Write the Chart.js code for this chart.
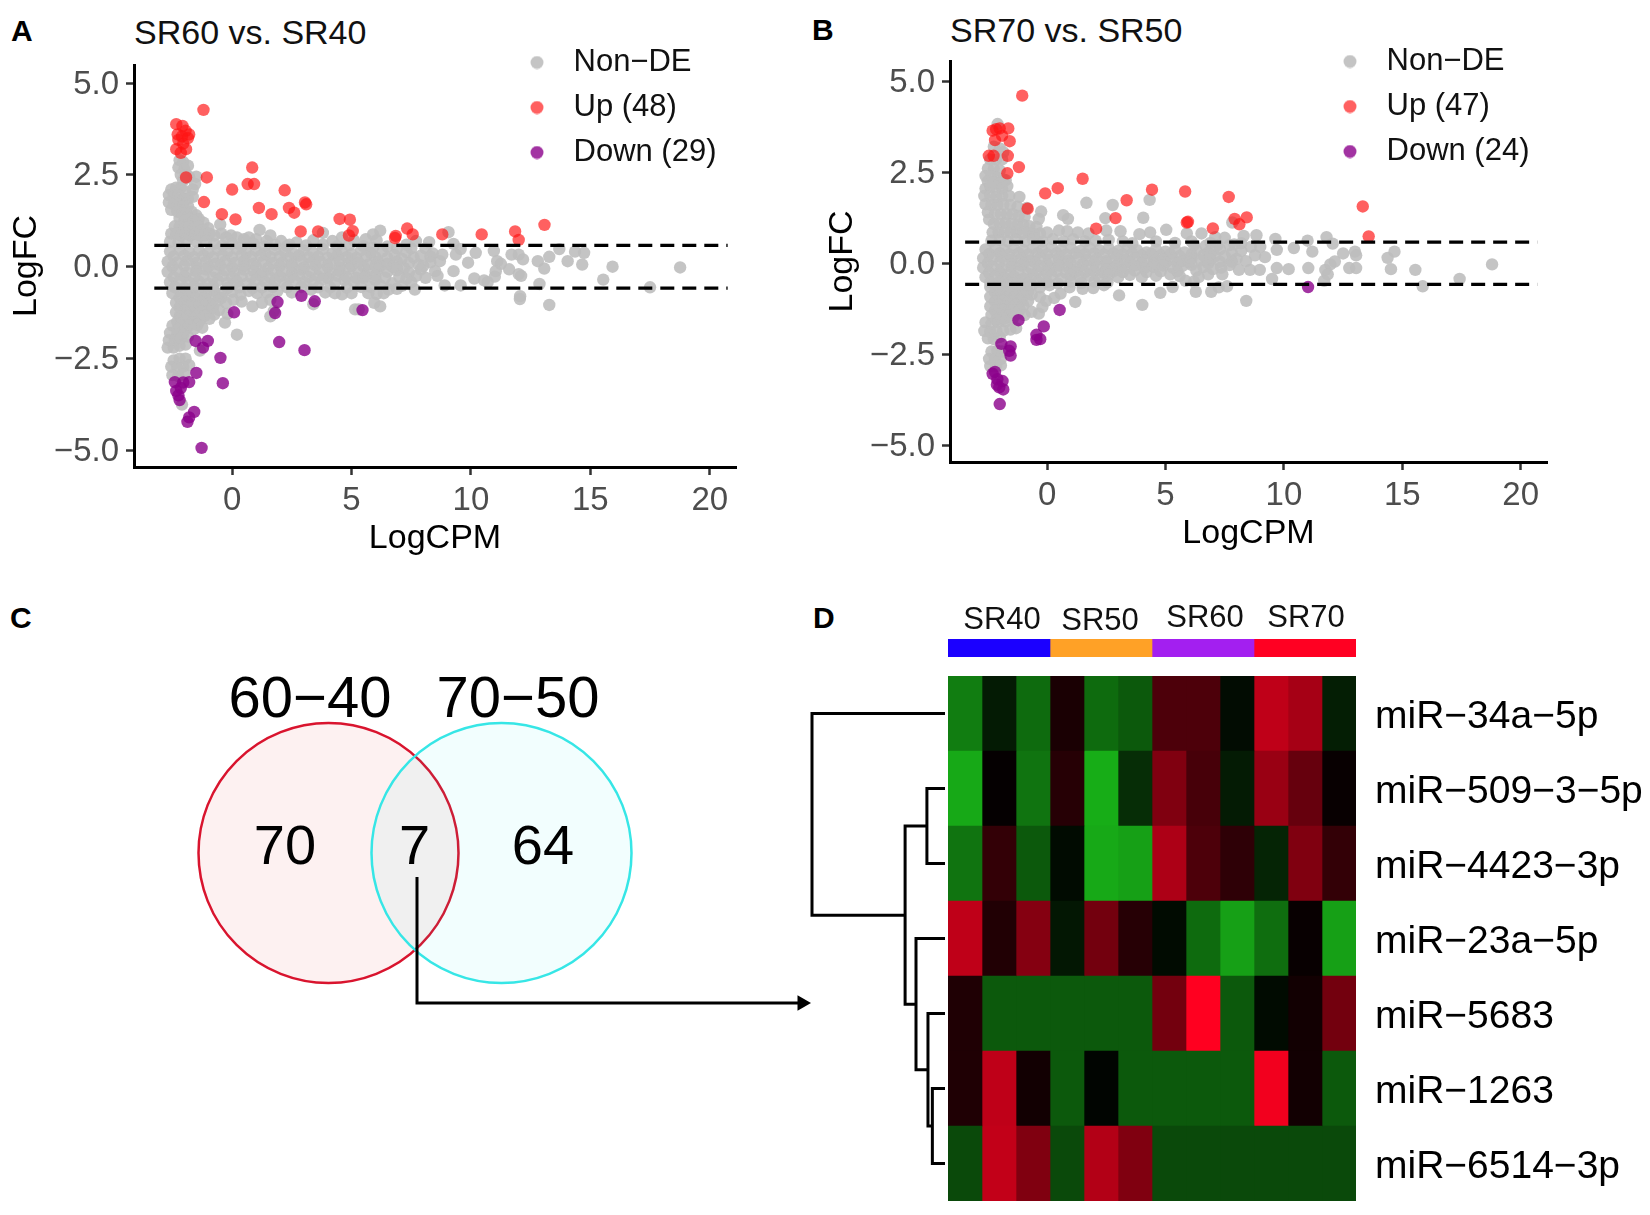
<!DOCTYPE html>
<html>
<head>
<meta charset="utf-8">
<title>miRNA differential expression</title>
<script src="https://cdn.jsdelivr.net/npm/chart.js@4"></script>
<style>
  body { margin: 0; background: #fff; width: 1650px; height: 1215px; position: relative; overflow: hidden; font-family: "Liberation Sans", Arial, sans-serif; }
  canvas { position: absolute; }
  .txt { position: absolute; line-height: 1; white-space: nowrap; color: #000; }
  .letter { font-weight: bold; font-size: 30px; }
  .title { font-size: 34px; color: #111; }
</style>
</head>
<body>
<div class="txt letter" style="left:11px;top:16px">A</div>
<div class="txt letter" style="left:812px;top:15px">B</div>
<div class="txt letter" style="left:10px;top:603px">C</div>
<div class="txt letter" style="left:813px;top:603px">D</div>
<div class="txt title" style="left:134px;top:15px">SR60 vs. SR40</div>
<div class="txt title" style="left:950px;top:13px">SR70 vs. SR50</div>
<canvas id="maA" width="790" height="562" style="left:0;top:0"></canvas>
<canvas id="maB" width="785" height="557" style="left:816px;top:0"></canvas>
<canvas id="venn" width="830" height="450" style="left:0;top:590px"></canvas>
<canvas id="dendro" width="136" height="525" style="left:810px;top:676px"></canvas>
<canvas id="groups" width="408" height="57" style="left:948px;top:600px"></canvas>
<canvas id="heat" width="702" height="525" style="left:948px;top:676px"></canvas>
<script>
// panel A, logCPM / logFC pairs
const nonDeA = [
  [-2.2,2.9],[-2.05,2.85],[-2.25,2.7],[-2,2.65],[-1.85,2.75],[-2.15,2.5],[-1.95,2.5],[-2.05,2.35],[-1.8,2.45],[-1.5,2.45],[-1.55,2.25],[-1.65,2.1],
  [-2.55,2.1],[-2.35,2.15],[-2.15,2.15],[-1.95,2.05],[-2.65,1.95],[-2.45,1.9],[-2.25,1.95],[-2.05,1.85],[-1.85,1.85],[-2.65,1.75],[-2.45,1.7],[-2.25,1.7],[-2.05,1.65],[-1.85,1.65],[-1.65,1.9],
  [-2.55,1.55],[-2.3,1.5],[-2.1,1.45],[-1.9,1.45],[-1.7,1.5],[-1.5,1.4],[-2.2,1.3],[-2,1.25],[-1.8,1.3],[-1.6,1.25],[-1.4,1.3],[-1.2,1.2],[-2.4,1.1],[-2.2,1.1],[-2,1.05],[-1.8,1.1],[-1.6,1.05],[-1.4,1.1],[-1.2,1],[-1,1.05],
  [-2.55,0.9],[-2.35,0.9],[-2.15,0.85],[-1.95,0.9],[-1.75,0.85],[-1.55,0.9],[-1.35,0.85],[-1.15,0.85],[-0.95,0.9],[-0.75,0.85],[-0.5,1.15],[-0.45,0.9],[-0.25,0.8],[-0.05,0.85],[0.2,0.8],[0.5,0.75],[0.7,0.8],[1.15,1],[1,0.75],[1.45,0.7],[1.6,0.85],[2.05,0.7],[2.4,0.6],
  [-2.6,0.68],[-2.25,0.66],[-1.9,0.7],[-1.5,0.68],[-1.1,0.7],[-0.75,0.62],[0,0.62],[0.9,0.62],[1.8,0.6],[2.7,0.66],[3.4,0.72],[3.8,0.92],[4.2,0.7],[4.6,0.8],[5.1,0.72],[5.6,0.75],[5.9,0.88],[6.2,0.98],[6.05,0.72],[7.3,0.6],[8.25,0.67],
  [-0.4,0.58],[0.4,0.56],[1.35,0.55],[2.3,0.56],[3.1,0.58],[3.8,0.6],[4.4,0.56],[4.9,0.58],[5.5,0.56],[5.9,0.52],[6.5,0.55],[6.9,0.5],[7.5,0.5],[7.7,0.7],[8.1,0.5],
  [-2.6,0.42],[-2.2,0.45],[-1.8,0.4],[-1.4,0.44],[-1,0.38],[-0.6,0.46],[-0.2,0.4],[0.2,0.48],[0.6,0.38],[1,0.44],[1.4,0.36],[1.8,0.46],[2.2,0.4],[2.6,0.34],[3,0.44],[3.4,0.38],[3.8,0.48],[4.2,0.36],[4.6,0.42],[5,0.34],[5.4,0.45],[5.8,0.38],[6.3,0.42],[6.8,0.32],[7.3,0.4],[7.9,0.3],[8.4,0.36],
  [-2.45,0.28],[-2,0.3],[-1.6,0.26],[-1.2,0.3],[-0.8,0.26],[-0.4,0.3],[0,0.26],[0.4,0.3],[0.8,0.27],[1.2,0.3],[1.6,0.26],[2,0.28],[2.4,0.25],[2.8,0.3],[3.2,0.26],[3.6,0.28],[4,0.24],[4.4,0.3],[4.8,0.26],[5.2,0.24],[5.6,0.28],[6,0.26],[6.5,0.24],[7.1,0.22],[7.6,0.25],[8.3,0.28],
  [-2.7,0.14],[-2.3,0.12],[-1.9,0.16],[-1.5,0.1],[-1.1,0.14],[-0.7,0.08],[-0.3,0.14],[0.1,0.1],[0.5,0.16],[0.9,0.08],[1.3,0.14],[1.7,0.1],[2.1,0.12],[2.5,0.06],[2.9,0.15],[3.3,0.1],[3.7,0.14],[4.1,0.08],[4.5,0.16],[4.9,0.1],[5.3,0.12],[5.7,0.06],[6.1,0.14],[6.5,0.08],[6.9,0.14],[7.4,0.1],[7.8,0.06],[8.3,0.12],[8.7,0.15],
  [-2.5,0],[-2,0.02],[-1.5,-0.02],[-1,0],[-0.5,0.03],[0,-0.02],[0.5,0.02],[1,0],[1.5,-0.03],[2,0.02],[2.5,0],[3,-0.02],[3.5,0.03],[4,0],[4.5,-0.02],[5,0.02],[5.5,0],[6,0.03],[6.2,0.02],[6.7,0],[6.9,-0.02],[7.2,-0.03],[8,0.02],
  [-2.7,-0.14],[-2.3,-0.1],[-1.9,-0.16],[-1.5,-0.12],[-1.1,-0.08],[-0.7,-0.14],[-0.3,-0.1],[0.1,-0.16],[0.5,-0.08],[0.9,-0.12],[1.3,-0.16],[1.7,-0.1],[2.1,-0.14],[2.5,-0.18],[2.9,-0.08],[3.3,-0.14],[3.7,-0.1],[4.1,-0.18],[4.5,-0.12],[4.9,-0.06],[5.3,-0.16],[5.7,-0.1],[6.1,-0.06],[6.5,-0.14],[6.9,-0.1],[7.4,-0.16],[7.9,-0.08],[8.5,-0.12],
  [-2.45,-0.28],[-2,-0.26],[-1.6,-0.3],[-1.2,-0.26],[-0.8,-0.3],[-0.4,-0.25],[0,-0.3],[0.4,-0.26],[0.8,-0.28],[1.2,-0.24],[1.6,-0.3],[2,-0.26],[2.4,-0.3],[2.8,-0.24],[3.2,-0.28],[3.6,-0.26],[4,-0.3],[4.4,-0.24],[4.8,-0.28],[5.2,-0.3],[5.6,-0.26],[6,-0.24],[6.4,-0.3],[7,-0.28],[7.3,-0.32],[7.7,-0.25],[8.1,-0.3],[8.6,-0.25],
  [-2.6,-0.42],[-2.2,-0.38],[-1.8,-0.44],[-1.4,-0.4],[-1,-0.46],[-0.6,-0.38],[-0.2,-0.44],[0.2,-0.4],[0.6,-0.46],[1,-0.36],[1.4,-0.42],[1.8,-0.38],[2.2,-0.45],[2.6,-0.36],[3,-0.42],[3.4,-0.4],[3.8,-0.34],[4.3,-0.44],[4.7,-0.36],[5.1,-0.42],[5.5,-0.3],[6,-0.36],[6.7,-0.45],[7.1,-0.52],[7.5,-0.42],[7.65,-0.62],[6.9,-0.6],
  [-2.4,-0.56],[-2,-0.58],[-1.6,-0.55],[-1.2,-0.58],[-0.8,-0.55],[-0.2,-0.58],[0.3,-0.56],[0.85,-0.58],[1.25,-0.56],[1.7,-0.55],[2.3,-0.56],[2.9,-0.55],[3.6,-0.56],[4.1,-0.56],[4.8,-0.57],[5.4,-0.55],[5.8,-0.55],[6.2,-0.5],
  [-2.5,-0.72],[-2.15,-0.68],[-1.8,-0.74],[-1.45,-0.7],[-1.1,-0.76],[-0.75,-0.66],[-0.4,-0.72],[0,-0.68],[0.35,-0.76],[0.7,-0.66],[1.05,-0.72],[1.45,-0.7],[1.9,-0.66],[2.5,-0.7],[3.3,-0.62],[3.9,-0.7],[4.3,-0.72],[4.6,-0.75],[5,-0.72],[5.7,-0.72],[6.05,-0.74],[6.55,-0.62],[6.35,-0.72],
  [-2.2,-0.85],[-1.85,-0.82],[-1.5,-0.85],[-1.15,-0.85],[-0.8,-0.82],[-0.45,-0.85],[-2.35,-0.98],[-2,-0.94],[-1.65,-1],[-1.3,-0.96],[-0.95,-1],[-0.6,-0.92],[-0.25,-0.98],[0.05,-0.9],[0.4,-0.95],[0.85,-1.08],[1.25,-0.98],[1.6,-0.9],[3.4,-1.02],[5.15,-1.16],[5.3,-1.16],[6.2,-1.08],[5.95,-0.98],
  [-2.2,-1.1],[-1.85,-1.08],[-1.5,-1.1],[-1.15,-1.08],[-0.8,-1.1],[-2.35,-1.24],[-2,-1.2],[-1.65,-1.26],[-1.3,-1.22],[-0.95,-1.2],[-0.55,-1.18],[-0.2,-1.28],[1.6,-1.35],[1.75,-1.2],
  [-2.2,-1.36],[-1.85,-1.34],[-1.5,-1.35],[-1.15,-1.34],[-0.75,-1.3],[-2.3,-1.5],[-2,-1.46],[-1.7,-1.52],[-1.35,-1.46],[-0.95,-1.42],[-0.3,-1.52],[-2.5,-1.6],[-2.15,-1.6],[-1.8,-1.6],[-1.45,-1.58],[-2.3,-1.72],[-1.95,-1.7],[-1.6,-1.7],[-1.25,-1.66],[0.2,-1.85],[-2.3,-1.85],[-2.05,-1.85],
  [-2.6,-1.8],[-2.65,-2],[-2.4,-2],[-2.15,-1.95],[-1.85,-1.9],[-2.7,-2.2],[-2.45,-2.2],[-2.2,-2.15],[-1.95,-2.12],[-1.35,-2.28],[-2.45,-2.55],[-2.2,-2.5],[-1.95,-2.5],[-2.55,-2.72],[-2.3,-2.75],[-2.05,-2.72],[-1.8,-2.68],[-2.5,-2.95],[-2.25,-2.98],[-2,-2.92],[-2.1,-3.75],
  [9.06,0.94],[9.27,0.62],[9.57,0.48],[9.37,0.33],[8.8,0.33],[9.88,0.11],[9.27,-0.12],[9.57,-0.51],[8.9,-0.51],[10.2,0.38],[10.14,-0.32],[10.55,-0.37],[10.7,-0.42],[10.96,0.43],[11.1,0.15],[11.25,0.08],[11.04,-0.12],[11,-0.27],[11.7,0.33],[12,0.33],[12.18,0.2],[11.6,-0.07],[12,-0.2],[12.1,-0.25],[12.06,-0.8],[12.05,-0.88],
  [12.8,0.15],[13.28,0.27],[13.07,-0.05],[13.7,0.48],[12.87,-0.47],[13.28,-1.04],[14.36,0.41],[14.74,0.38],[14.05,0.15],[14.66,0.06],[15.93,0],[15.54,-0.35],[17.5,-0.56],[18.76,-0.02]
];
const upA = [
  [-1.2,4.27],[-2.34,3.88],[-2.08,3.83],[-1.95,3.7],[-1.8,3.6],[-1.85,3.5],[-2.25,3.45],[-2.34,3.2],[-1.93,3.2],[-2.15,3.1],[-2.05,3.35],[-2.28,3.6],[-2.1,3.55],
  [-1.93,2.43],[-1.06,2.43],[-1.18,1.76],[0,2.1],[0.84,2.7],[0.65,2.25],[0.92,2.25],[2.2,2.08],[1.12,1.6],[1.65,1.43],[2.38,1.6],[2.6,1.47],[3.05,1.75],[3.1,1.7],[-0.43,1.43],[0.14,1.29],[2.87,0.96],[3.6,0.96],
  [4.5,1.3],[4.93,1.28],[5.05,0.97],[4.89,0.85],[6.82,0.78],[6.85,0.84],[7.33,1.04],[7.56,0.88],[8.8,0.88],[10.45,0.88],[11.85,0.96],[12,0.73],[13.08,1.14]
];
const downA = [
  [-1.28,-4.93],[-1.59,-3.95],[-1.8,-4.1],[-1.87,-4.22],[-2.2,-3.63],[-2.34,-3.38],[-2.4,-3.14],[-2.15,-3.3],[-1.8,-3.14],[-1.5,-2.89],[-2.25,-3.5],[-2.05,-3.15],[-0.39,-3.17],[-0.49,-2.48],
  [-1.53,-2.02],[-1.02,-2.02],[-1.22,-2.2],[0.08,-1.24],[1.97,-2.05],[3.03,-2.27],[1.9,-0.96],[1.8,-1.26],[2.9,-0.79],[3.46,-0.94],[5.46,-1.18]
];

// panel B
const nonDeB = [
  [-2.09,3.82],[-2.25,3.2],[-2,3.15],[-1.85,3.05],[-2.4,2.85],[-2.15,2.85],[-1.9,2.85],[-2.5,2.6],[-2.25,2.6],[-2,2.55],[-2.6,2.4],[-2.35,2.4],[-2.1,2.35],[-1.85,2.3],[-2.5,2.25],[-2.25,2.22],[-2,2.2],[-1.75,2.28],
  [-2.6,2.05],[-2.4,2.1],[-2.15,2.1],[-1.9,2.05],[-1.68,2.12],[-2.65,1.85],[-2.4,1.85],[-2.15,1.82],[-1.9,1.85],[-1.6,1.85],[-1.17,1.82],[-2.6,1.62],[-2.35,1.6],[-2.1,1.6],[-1.85,1.62],[-1.55,1.6],[-1.25,1.55],[-0.86,1.52],
  [-2.5,1.4],[-2.45,1.2],[-2.2,1.35],[-1.95,1.35],[-1.7,1.35],[-1.45,1.35],[-1.2,1.3],[-0.95,1.28],[-0.25,1.42],[-0.35,1.22],[0.68,1.32],[0.88,1.22],[1.66,1.66],[2.77,1.6],[4.33,1.74],[2.46,1.24],[4.06,1.25],[7.82,1.12],
  [-2.25,1.08],[-2,1.08],[-1.75,1.1],[-1.5,1.08],[-1.25,1.06],[-1,1.05],[-0.75,1.02],[-0.45,1],[-2.3,0.85],[-2.05,0.85],[-1.8,0.85],[-1.55,0.85],[-1.3,0.85],[-1.05,0.82],[-0.8,0.85],[-0.55,0.8],[-0.3,0.82],[0,0.85],[0.5,0.9],[0.85,0.88],[1.3,0.85],[1.75,0.82],[2.5,0.9],[3.1,0.88],[3.9,0.8],[4.35,0.85],[5.03,0.92],[5.9,0.82],[6.52,0.82],[7.1,0.72],[7.5,0.7],[8.3,0.75],[8.84,0.77],[9.64,0.67],
  [-2.35,0.62],[-2,0.64],[-1.65,0.6],[-1.3,0.64],[-0.95,0.6],[-0.6,0.66],[-0.2,0.6],[0.25,0.66],[0.7,0.6],[1.1,0.66],[1.6,0.6],[2.05,0.62],[2.6,0.64],[3.2,0.6],[3.6,0.55],[4.6,0.6],[5.4,0.56],[6.1,0.6],[6.9,0.56],[7.9,0.52],[6.2,0.5],[6.7,0.48],[7.2,0.5],[7.7,0.5],[8.2,0.55],[8.6,0.45],[9,0.45],
  [-2.6,0.38],[-2.2,0.4],[-1.8,0.36],[-1.4,0.42],[-1,0.36],[-0.6,0.42],[-0.2,0.36],[0.2,0.44],[0.6,0.36],[1,0.42],[1.4,0.34],[1.8,0.42],[2.2,0.36],[2.6,0.4],[3,0.34],[3.4,0.42],[3.8,0.36],[4.2,0.3],[4.6,0.38],[5,0.32],[5.4,0.38],[5.8,0.3],[6.3,0.36],[6.8,0.3],[7.3,0.38],[7.8,0.28],[8.2,0.34],
  [-2.45,0.26],[-2,0.28],[-1.6,0.24],[-1.2,0.28],[-0.8,0.24],[-0.4,0.28],[0,0.25],[0.4,0.28],[0.8,0.24],[1.2,0.28],[1.6,0.25],[2,0.27],[2.4,0.24],[2.8,0.27],[3.2,0.24],[3.6,0.27],[4,0.22],[4.4,0.26],[4.8,0.22],[5.2,0.25],[5.6,0.2],[6.1,0.24],[6.6,0.22],[7.1,0.2],[6.9,0.25],[7.5,0.2],
  [-2.7,0.14],[-2.3,0.12],[-1.9,0.16],[-1.5,0.1],[-1.1,0.14],[-0.7,0.08],[-0.3,0.14],[0.1,0.1],[0.5,0.16],[0.9,0.08],[1.3,0.14],[1.7,0.1],[2.1,0.12],[2.5,0.06],[2.9,0.15],[3.3,0.1],[3.7,0.14],[4.1,0.08],[4.5,0.16],[4.9,0.1],[5.3,0.12],[5.7,0.06],[6.1,0.14],[6.5,0.08],[6.9,0.1],[7.3,0.04],[8,0.12],[8.4,0.06],
  [-2.5,0],[-2,0.02],[-1.5,-0.02],[-1,0],[-0.5,0.02],[0,-0.02],[0.5,0.02],[1,0],[1.5,-0.02],[2,0.02],[2.5,0],[3,-0.02],[3.5,0.02],[4,0],[4.5,-0.02],[5,0.02],[5.5,0],[6,0.02],[6.8,0],[7.8,0.05],[7.7,-0.05],
  [-2.7,-0.12],[-2.3,-0.1],[-1.9,-0.14],[-1.5,-0.1],[-1.1,-0.06],[-0.7,-0.12],[-0.3,-0.08],[0.1,-0.14],[0.5,-0.06],[0.9,-0.12],[1.3,-0.14],[1.7,-0.08],[2.1,-0.12],[2.5,-0.16],[2.9,-0.08],[3.3,-0.12],[3.7,-0.06],[4.1,-0.14],[4.5,-0.1],[4.9,-0.06],[5.3,-0.12],[5.7,-0.08],[6.1,-0.04],[6.6,-0.1],[7,-0.16],[8.1,-0.18],[8.57,-0.18],[8.98,-0.18],[7.35,-0.12],
  [-2.45,-0.26],[-2,-0.24],[-1.6,-0.28],[-1.2,-0.24],[-0.8,-0.28],[-0.4,-0.22],[0,-0.26],[0.4,-0.22],[0.8,-0.26],[1.2,-0.24],[1.6,-0.24],[2,-0.22],[2.4,-0.26],[2.8,-0.22],[3.2,-0.24],[3.7,-0.2],[4.2,-0.24],[4.8,-0.22],[5.5,-0.22],[6.3,-0.2],[6.8,-0.3],[7.4,-0.3],
  [-2.6,-0.38],[-2.2,-0.36],[-1.8,-0.4],[-1.4,-0.36],[-1,-0.42],[-0.6,-0.34],[-0.2,-0.4],[0.2,-0.34],[0.6,-0.42],[1,-0.32],[1.4,-0.38],[1.8,-0.34],[2.2,-0.42],[2.6,-0.32],[3,-0.38],[3.5,-0.32],[4,-0.38],[4.6,-0.34],[5.2,-0.3],[5.6,-0.35],[5.85,-0.48],[6.2,-0.5],[6.4,-0.38],
  [-2.4,-0.52],[-2,-0.5],[-1.6,-0.54],[-1.2,-0.5],[-0.8,-0.54],[-0.4,-0.5],[0,-0.52],[0.45,-0.55],[1,-0.5],[1.45,-0.54],[2,-0.5],[2.55,-0.52],
  [-2.4,-0.65],[-2.05,-0.62],[-1.7,-0.68],[-1.35,-0.62],[-1,-0.68],[-0.65,-0.6],[-0.3,-0.66],[0.1,-0.6],[0.57,-0.83],[0.95,-0.66],[1.5,-0.7],[1.95,-0.68],[2.4,-0.6],[4.78,-0.81],[5.3,-0.65],[6.28,-0.78],[6.93,-0.78],[7.25,-0.66],[7.6,-0.63],
  [-2.2,-0.8],[-1.85,-0.78],[-1.5,-0.78],[-1.15,-0.78],[-0.8,-0.78],[-2.4,-0.92],[-2.05,-0.88],[-1.7,-0.94],[-1.35,-0.88],[-1,-0.9],[-0.65,-0.86],[-0.3,-0.92],[-0.04,-1.03],[0.3,-0.95],[1.19,-1.06],[3.04,-0.88],[4.02,-1.14],[8.41,-1.03],
  [-2.2,-1.05],[-1.85,-1.03],[-1.5,-1.05],[-1.15,-1.03],[-0.8,-1.03],[-2.4,-1.18],[-2.05,-1.14],[-1.7,-1.2],[-1.35,-1.14],[-1,-1.16],[-0.66,-1.33],[-0.35,-1.38],[-0.2,-1.2],
  [-2.2,-1.3],[-1.85,-1.28],[-1.5,-1.28],[-1.15,-1.28],[-2.35,-1.42],[-2,-1.4],[-1.65,-1.44],[-1.3,-1.4],[-0.95,-1.42],[-2.15,-1.55],[-1.8,-1.52],[-1.45,-1.52],[-2.6,-1.62],[-2.35,-1.66],[-2.05,-1.62],[-1.75,-1.6],[-1.31,-1.78],[-2.65,-1.85],[-2.4,-1.88],[-2.15,-1.85],[-1.85,-1.85],[-1.55,-1.82],[-2.5,-2.06],[-2.25,-2.08],[-2,-2.02],
  [-2.35,-2.42],[-2.1,-2.4],[-1.9,-2.42],[-2.45,-2.62],[-2.2,-2.62],[-1.95,-2.62],[-2.4,-2.82],[-2.15,-2.82],[-1.95,-2.8],
  [9.7,0.37],[9.2,0.17],[8.78,0.22],[10.42,0.42],[11,0.62],[11.2,0.32],[11.8,0.72],[12.06,0.54],[12.5,0.27],[13,0.32],[13.05,0.22],[12.76,-0.13],[13.05,-0.13],[14.67,0.32],[14.38,0.15],[14.52,-0.16],[15.55,-0.18],[18.79,-0.03],[17.42,-0.43],[15.86,-0.63],
  [11.75,-0.18],[11.96,-0.03],[11.7,-0.48],[11.03,-0.13],[10.2,-0.16],[9.7,-0.13],[9.5,-0.43],[12.15,0.05],[11.85,-0.3]
];
const upB = [
  [-1.05,4.6],[-2.3,3.64],[-2.15,3.68],[-2,3.7],[-1.64,3.7],[-2.2,3.38],[-1.58,3.35],[-1.9,3.5],[-2.46,2.95],[-2.26,2.95],[-1.66,2.95],[-1.68,2.47],[-1.19,2.64],[-0.08,1.92],[0.45,2.06],[1.5,2.32],[3.36,1.73],[4.43,2.02],[5.83,1.97],
  [7.67,1.82],[13.33,1.56],[13.58,0.74],[2.89,1.24],[2.07,0.95],[5.9,1.12],[5.95,1.14],[7,0.96],[7.92,1.22],[8.12,1.07],[8.43,1.26],[-0.82,1.5]
];
const downB = [
  [-2,-3.86],[-1.85,-3.46],[-2.12,-3.33],[-2.3,-3.03],[-2.1,-3.18],[-1.88,-3.23],[-2.2,-2.98],[-2.02,-3.4],[-1.54,-2.53],[-1.54,-2.28],[-1.93,-2.21],[-1.6,-2.4],[-1.21,-1.56],[-0.14,-1.73],[-0.45,-1.96],[-0.29,-2.08],[-0.45,-2.1],[0.53,-1.28],[11.02,-0.65]
];

const xTicks = [0, 5, 10, 15, 20];
const yTicks = [-5, -2.5, 0, 2.5, 5];
const cutoffs = [0.58, -0.58];
const legendA = ['Non\u2212DE', 'Up (48)', 'Down (29)'];
const legendB = ['Non\u2212DE', 'Up (47)', 'Down (24)'];

// venn counts and set names
const vennSets = ['60\u221240', '70\u221250'];
const vennCounts = [70, 7, 64];

// heatmap: scaled expression, one row per miRNA, 3 samples per group
const mirnas = ['miR\u221234a\u22125p', 'miR\u2212509\u22123\u22125p', 'miR\u22124423\u22123p', 'miR\u221223a\u22125p', 'miR\u22125683', 'miR\u22121263', 'miR\u22126514\u22123p'];
const groupNames = ['SR40', 'SR50', 'SR60', 'SR70'];
const groupSizes = [3, 3, 3, 3];
const heatValues = [
  [-0.7, -0.15, -0.6, 0.1, -0.6, -0.5, 0.3, 0.3, -0.07, 0.75, 0.65, -0.17],
  [-0.95, 0.02, -0.65, 0.15, -0.97, -0.25, 0.5, 0.28, -0.15, 0.6, 0.4, 0.03],
  [-0.65, 0.2, -0.5, -0.06, -0.95, -0.9, 0.68, 0.3, 0.18, -0.2, 0.5, 0.2],
  [0.75, 0.13, 0.52, -0.13, 0.45, 0.15, -0.06, -0.6, -0.9, -0.62, 0.03, -0.9],
  [0.12, -0.5, -0.5, -0.5, -0.5, -0.5, 0.45, 1, -0.5, -0.06, 0.07, 0.45],
  [0.12, 0.75, 0.07, -0.5, -0.03, -0.5, -0.5, -0.5, -0.5, 0.95, 0.07, -0.5],
  [-0.41, 0.76, 0.5, -0.41, 0.7, 0.5, -0.41, -0.41, -0.41, -0.41, -0.41, -0.41]
];
// hclust merges: [first position, first height, second position, second height, merge height]
const merges = [
  [1, 0, 2, 0, 0.136],
  [5, 0, 6, 0, 0.095],
  [4, 0, 5.5, 0.095, 0.128],
  [3, 0, 4.75, 0.128, 0.218],
  [1.5, 0.136, 3.875, 0.218, 0.3],
  [0, 0, 2.69, 0.3, 1]
];

const FONT = '"Liberation Sans", Arial, sans-serif';
Chart.defaults.font.family = FONT;
Chart.defaults.animation = false;
Chart.defaults.responsive = false;
Chart.defaults.devicePixelRatio = 1;
Chart.defaults.layout.autoPadding = false;

const GRAY = 'rgba(190,190,190,0.9)', RED = 'rgba(255,20,20,0.68)', PURPLE = 'rgba(139,0,139,0.8)';

function placeLegend(left, top) {
  return {
    id: 'placeLegend',
    afterUpdate(chart) {
      chart.legend.left = left;
      chart.legend.top = top;
    }
  };
}

// round legend marker that stays round in the wide legend box
function dot(color) {
  const c = document.createElement('canvas');
  c.width = c.height = 14;
  const g = c.getContext('2d');
  g.fillStyle = color;
  g.arc(7, 7, 6.5, 0, Math.PI * 2);
  g.fill();
  return c;
}

function maPlot(id, cfg) {
  const minus = v => String(v).replace('-', '\u2212');
  const hline = y => ({
    label: 'cut', showLine: true, pointRadius: 0, order: 0,
    data: [[cfg.lineX[0], y], [cfg.lineX[1], y]],
    borderColor: '#000', borderWidth: 3.2, borderDash: [14, 8]
  });
  const pts = (label, data, color, order) => ({
    label, data, order, pointRadius: 6.2, pointHoverRadius: 6.2, borderWidth: 0,
    backgroundColor: color, pointBackgroundColor: color, pointBorderWidth: 0
  });
  const markers = [dot(GRAY), dot(RED), dot(PURPLE)];
  return new Chart(document.getElementById(id), {
    type: 'scatter',
    data: {
      datasets: [
        pts(cfg.legend[0], cfg.gray, GRAY, 3),
        pts(cfg.legend[1], cfg.up, RED, 2),
        pts(cfg.legend[2], cfg.down, PURPLE, 1),
        hline(cutoffs[0]),
        hline(cutoffs[1])
      ]
    },
    plugins: [placeLegend(cfg.legendLeft, cfg.legendTop)],
    options: {
      layout: { padding: { top: cfg.top, right: 54, left: 0, bottom: 0 } },
      plugins: {
        tooltip: { enabled: false },
        legend: {
          position: 'chartArea',
          align: 'start',
          labels: {
            usePointStyle: true, boxHeight: 8, boxWidth: 42, pointStyleWidth: 42,
            padding: 14, color: '#111', font: { size: 31 },
            generateLabels: chart => Chart.defaults.plugins.legend.labels.generateLabels(chart).map(item => {
              item.pointStyle = markers[item.datasetIndex];
              return item;
            }),
            filter: item => item.datasetIndex < 3,
            sort: (a, b) => a.datasetIndex - b.datasetIndex
          }
        }
      },
      scales: {
        x: {
          type: 'linear', min: cfg.xRange[0], max: cfg.xRange[1],
          afterBuildTicks: s => { s.ticks = xTicks.map(value => ({ value })); },
          afterFit: s => { s.height = cfg.bottom; },
          grid: { drawOnChartArea: false, tickLength: 8, tickColor: '#333', tickWidth: 2.5 },
          border: { color: '#000', width: 3 },
          ticks: { color: '#4d4d4d', font: { size: 33 }, padding: 6, maxRotation: 0, callback: v => minus(v) },
          title: { display: true, text: 'LogCPM', color: '#000', font: { size: 34 }, padding: { top: 0, bottom: 3 } }
        },
        y: {
          type: 'linear', min: cfg.yRange[0], max: cfg.yRange[1],
          afterBuildTicks: s => { s.ticks = yTicks.map(value => ({ value })); },
          afterFit: s => { s.width = 134; },
          grid: { drawOnChartArea: false, tickLength: 8, tickColor: '#333', tickWidth: 2.5 },
          border: { color: '#000', width: 3 },
          ticks: { color: '#4d4d4d', font: { size: 33 }, padding: 7, labelOffset: 1.5, callback: v => minus(v.toFixed(1)) },
          title: { display: true, text: 'LogFC', color: '#000', font: { size: 34 }, padding: { top: 6, bottom: 0 } }
        }
      }
    }
  });
}

maPlot('maA', {
  gray: nonDeA, up: upA, down: downA, legend: legendA,
  xRange: [-4.11, 21.1], yRange: [-5.45, 5.49], lineX: [-3.26, 20.75],
  top: 65, bottom: 95, legendLeft: 502, legendTop: 33
});
maPlot('maB', {
  gray: nonDeB, up: upB, down: downB, legend: legendB,
  xRange: [-4.1, 21.11], yRange: [-5.45, 5.55], lineX: [-3.46, 20.7],
  top: 61, bottom: 95, legendLeft: 499, legendTop: 32
});

// venn: circles on a plain 0-830 / 0-450 canvas scale
const vennText = {
  id: 'vennText',
  afterDatasetsDraw(chart) {
    const { ctx, scales: { x, y } } = chart;
    ctx.save();
    ctx.fillStyle = '#000';
    ctx.textAlign = 'center';
    ctx.textBaseline = 'middle';
    ctx.font = '58px ' + FONT;
    vennSets.forEach((t, i) => ctx.fillText(t, x.getPixelForValue([310, 518][i]), y.getPixelForValue(111)));
    ctx.font = '56px ' + FONT;
    vennCounts.forEach((t, i) => ctx.fillText(t, x.getPixelForValue([285, 414.5, 543][i]), y.getPixelForValue(259)));
    ctx.restore();
  }
};
const hiddenAxis = (min, max, reverse) => ({ type: 'linear', display: false, min, max, reverse: !!reverse });
new Chart(document.getElementById('venn'), {
  type: 'scatter',
  data: {
    datasets: [
      { data: [[328.5, 263]], clip: false, pointRadius: 130, pointBackgroundColor: 'rgba(230,40,40,0.065)', pointBorderColor: '#d9142e', pointBorderWidth: 2.5, order: 3 },
      { data: [[501.5, 263]], clip: false, pointRadius: 130, pointBackgroundColor: 'rgba(0,230,240,0.05)', pointBorderColor: '#36e6e6', pointBorderWidth: 2.5, order: 2 },
      { data: [[417, 287], [417, 413], [804, 413]], showLine: true, pointRadius: 0, borderColor: '#000', borderWidth: 3, order: 1 },
      { data: [[802, 413]], pointStyle: 'triangle', rotation: 90, pointRadius: 9, pointBackgroundColor: '#000', pointBorderWidth: 0, order: 0 }
    ]
  },
  plugins: [vennText],
  options: {
    layout: { padding: 0 },
    plugins: { legend: { display: false }, tooltip: { enabled: false } },
    scales: { x: hiddenAxis(0, 830), y: hiddenAxis(0, 450, true) }
  }
});

// dendrogram
const dendroSets = merges.map(m => ({
  data: [[m[1], m[0]], [m[4], m[0]], [m[4], m[2]], [m[3], m[2]]],
  showLine: true, pointRadius: 0, borderColor: '#000', borderWidth: 3, clip: false, tension: 0
}));
new Chart(document.getElementById('dendro'), {
  type: 'scatter',
  data: { datasets: dendroSets },
  options: {
    layout: { padding: { left: 2, right: 1, top: 0, bottom: 0 } },
    plugins: { legend: { display: false }, tooltip: { enabled: false } },
    scales: { x: hiddenAxis(0, 1, true), y: hiddenAxis(-0.5, 6.5, true) }
  }
});

// group colour bar, stacked cells with the group name above
const groupColors = ['#1b00ff', '#ffa126', '#a31ff0', '#ff0022'];
const groupLift = [19, 18, 21, 21];
const groupShift = [3, -1, 2, 1];
const groupText = {
  id: 'groupText',
  afterDatasetsDraw(chart) {
    const { ctx, chartArea, scales: { x } } = chart;
    ctx.save();
    ctx.fillStyle = '#111';
    ctx.textAlign = 'center';
    ctx.textBaseline = 'middle';
    ctx.font = '31px ' + FONT;
    let start = 0;
    groupNames.forEach((name, i) => {
      ctx.fillText(name, x.getPixelForValue(start + groupSizes[i] / 2) + groupShift[i], chartArea.top - groupLift[i]);
      start += groupSizes[i];
    });
    ctx.restore();
  }
};
new Chart(document.getElementById('groups'), {
  type: 'bar',
  data: {
    labels: ['group'],
    datasets: groupNames.map((name, i) => ({ label: name, data: [groupSizes[i]], backgroundColor: groupColors[i], barPercentage: 1, categoryPercentage: 1, borderWidth: 0 }))
  },
  plugins: [groupText],
  options: {
    indexAxis: 'y',
    layout: { padding: { top: 39 } },
    plugins: { legend: { display: false }, tooltip: { enabled: false } },
    scales: {
      x: { stacked: true, display: false, min: 0, max: 12 },
      y: { stacked: true, display: false }
    }
  }
});

// heatmap as stacked one-unit cells, coloured from the value
function heatColor(v) {
  const a = Math.abs(v);
  if (v < 0) return `rgb(${Math.round(24 * a)},${Math.round(178 * a)},${Math.round(24 * a)})`;
  return `rgb(${Math.round(255 * a)},0,${Math.round(32 * a)})`;
}
new Chart(document.getElementById('heat'), {
  type: 'bar',
  data: {
    labels: mirnas,
    datasets: heatValues[0].map((_, col) => ({
      label: 'sample ' + (col + 1),
      data: mirnas.map(() => 1),
      backgroundColor: heatValues.map(row => heatColor(row[col])),
      barPercentage: 1, categoryPercentage: 1, borderWidth: 0
    }))
  },
  options: {
    indexAxis: 'y',
    layout: { padding: 0 },
    plugins: { legend: { display: false }, tooltip: { enabled: false } },
    scales: {
      x: { stacked: true, display: false, min: 0, max: 12 },
      y: {
        stacked: true, position: 'right',
        afterFit: s => { s.width = 294; s.paddingTop = 0; s.paddingBottom = 0; },
        grid: { display: false, drawTicks: false },
        border: { display: false },
        ticks: { color: '#000', font: { size: 39 }, padding: 19, labelOffset: 4, autoSkip: false }
      }
    }
  }
});
</script>
</body>
</html>
